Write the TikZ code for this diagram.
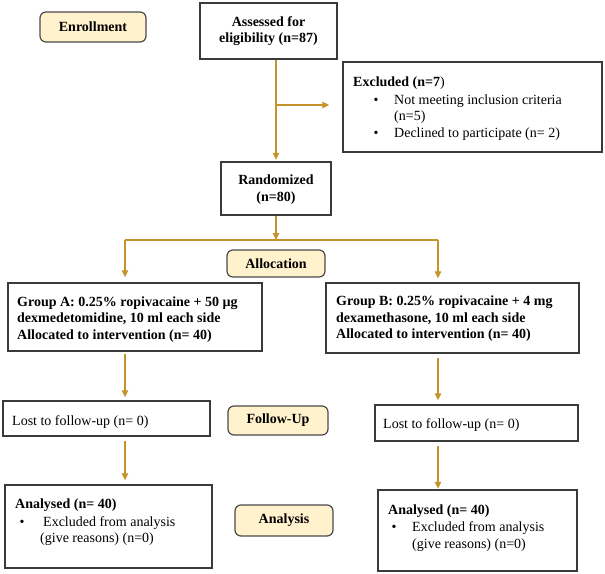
\documentclass[tikz,border=0pt]{standalone}
\usepackage{fontspec}
\setmainfont{Liberation Serif}
\usetikzlibrary{arrows.meta}
\definecolor{arrowgold}{HTML}{C6932A}
\definecolor{boxline}{HTML}{3A3A3A}
\definecolor{stagefill}{HTML}{FFF2CC}
\definecolor{stageline}{HTML}{4A4A4A}
\begin{document}
\begin{tikzpicture}[x=1pt,y=-1pt,
  box/.style={draw=boxline, line width=1.5pt, inner sep=0pt},
  stage/.style={draw=stageline, fill=stagefill, rounded corners=6pt, line width=1.2pt, inner sep=0pt, font=\fontsize{14}{16.5}\selectfont\bfseries},
  txt/.style={inner sep=0pt, font=\fontsize{14}{16.5}\selectfont, align=left},
  btxt/.style={inner sep=0pt, font=\fontsize{14}{16.5}\selectfont\bfseries, align=left},
  flow/.style={draw=arrowgold, line width=1.4pt, -{Triangle[width=6.5pt,length=7pt]}},
  flowline/.style={draw=arrowgold, line width=1.4pt}]
\fill[white] (0,0) rectangle (605,573);
\useasboundingbox (0,0) rectangle (605,573);

% stage labels
\node[stage, minimum width=106pt, minimum height=30pt] (enroll) at (93,27) {Enrollment};
\node[stage, minimum width=98pt, minimum height=27pt] (alloc) at (276,263.5) {Allocation};
\node[stage, minimum width=100pt, minimum height=29pt] (follow) at (278,420.5) {Follow-Up};
\node[stage, minimum width=98pt, minimum height=31pt] (analysis) at (284,520.5) {Analysis};

% boxes
\node[box, minimum width=137pt, minimum height=56pt] (assessed) at (268.5,31) {};
\node[box, minimum width=259pt, minimum height=90pt] (excl) at (472.5,107) {};
\node[box, minimum width=110pt, minimum height=53pt] (rand) at (276,188.5) {};
\node[box, minimum width=254pt, minimum height=68pt] (groupA) at (135,317) {};
\node[box, minimum width=253pt, minimum height=70pt] (groupB) at (452.5,318) {};
\node[box, minimum width=207pt, minimum height=35pt] (lostA) at (106.5,418.5) {};
\node[box, minimum width=203pt, minimum height=36pt] (lostB) at (476.5,423) {};
\node[box, minimum width=207pt, minimum height=83pt] (analA) at (108.5,526.5) {};
\node[box, minimum width=199pt, minimum height=81pt] (analB) at (477.5,530.5) {};

% texts
\begin{scope}[yshift=-2pt]
\node[btxt, align=center] (tassessed) at (268.5,29) {Assessed for\\eligibility (n=87)};
\node[txt, anchor=west] (texcl) at (353,81) {\bfseries Excluded (n=7\mdseries)};
\node[txt] (bul1) at (376,99) {•};
\node[txt, anchor=west] (tex1) at (394,107) {Not meeting inclusion criteria\\(n=5)};
\node[txt] (bul2) at (376,132) {•};
\node[txt, anchor=west] (tex2) at (394,132) {Declined to participate (n= 2)};
\node[btxt, align=center] (trand) at (276,187.5) {Randomized\\(n=80)};
\node[btxt, anchor=west] (tgroupA) at (17,317.5) {Group A: 0.25\% ropivacaine + 50 µg\\dexmedetomidine, 10 ml each side\\Allocated to intervention (n= 40)};
\node[btxt, anchor=west] (tgroupB) at (336,317) {Group B: 0.25\% ropivacaine + 4 mg\\dexamethasone, 10 ml each side\\Allocated to intervention (n= 40)};
\node[txt, anchor=west] (tlostA) at (12,420) {Lost to follow-up (n= 0)};
\node[txt, anchor=west] (tlostB) at (383,423) {Lost to follow-up (n= 0)};
\node[btxt, anchor=west] (tanalA) at (15,503) {Analysed (n= 40)};
\node[txt] (bulA) at (22,521) {•};
\node[txt, anchor=west] (tanalA1) at (43,521) {Excluded from analysis};
\node[txt, anchor=west] (tanalA2) at (40,537) {(give reasons) (n=0)};
\node[btxt, anchor=west] (tanalB) at (388,509) {Analysed (n= 40)};
\node[txt] (bulB) at (394,526) {•};
\node[txt, anchor=west] (tanalB1) at (412,526) {Excluded from analysis};
\node[txt, anchor=west] (tanalB2) at (412,543) {(give reasons) (n=0)};
\end{scope}

% connectors
\coordinate (top) at (assessed.south -| rand.north);
\draw[flow, shorten >=1.5pt] (top) -- (rand.north);
\coordinate (bj) at (276,105);
\draw[flow, shorten >=13pt] (bj) -- (bj -| excl.west);
\coordinate (split) at (276,240);
\draw[flow] (rand.south) -- (split);
\coordinate (la) at (125,240);
\coordinate (rb) at (438,240);
\draw[flowline] (la) -- (rb);
\draw[flow, shorten >=5pt] (la) -- (la |- groupA.north);
\draw[flow, shorten >=4pt] (rb) -- (rb |- groupB.north);
\draw[flow, shorten <=2pt, shorten >=3pt] (la |- groupA.south) -- (la |- lostA.north);
\draw[flow, shorten <=4pt, shorten >=4pt] (rb |- groupB.south) -- (rb |- lostB.north);
\draw[flow, shorten <=4pt, shorten >=4pt] (la |- lostA.south) -- (la |- analA.north);
\draw[flow, shorten <=4pt, shorten >=0.5pt] (rb |- lostB.south) -- (rb |- analB.north);
\end{tikzpicture}
\end{document}
